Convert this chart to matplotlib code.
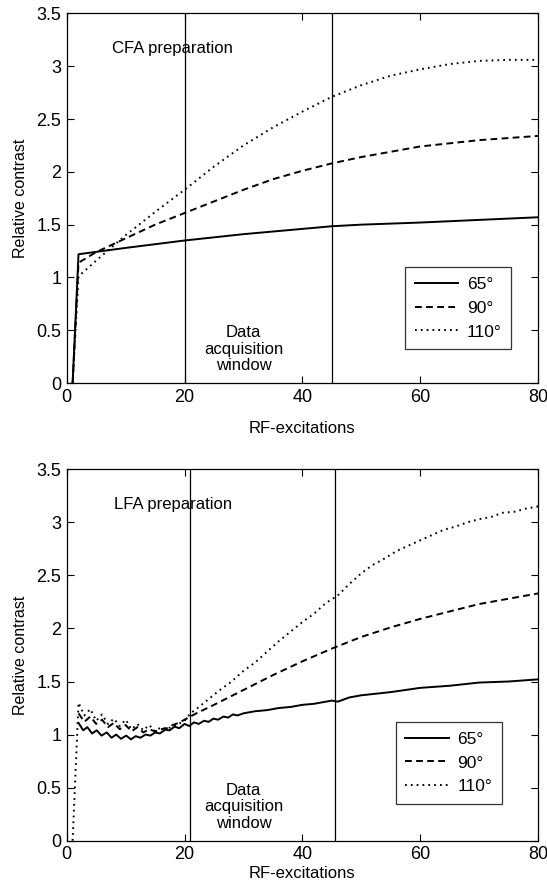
import matplotlib
matplotlib.use("Agg")
import matplotlib.pyplot as plt

plt.rcParams['font.family'] = ['Liberation Sans', 'DejaVu Sans']

# ---------------- data: top panel (CFA preparation) ----------------
top_x65 = [1, 2, 10, 20, 30, 40, 45, 50, 60, 70, 80]
top_y65 = [0, 1.22, 1.28, 1.35, 1.41, 1.46, 1.485, 1.50, 1.52, 1.545, 1.57]

top_x90 = [1, 2, 5, 10, 15, 20, 25, 30, 35, 40, 45, 50, 55, 60, 65, 70, 75, 80]
top_y90 = [0, 1.14, 1.24, 1.37, 1.50, 1.61, 1.72, 1.83, 1.93, 2.01, 2.08,
           2.14, 2.19, 2.24, 2.27, 2.30, 2.32, 2.34]

top_x110 = [1, 2, 5, 10, 15, 20, 25, 30, 35, 40, 45, 50, 55, 60, 65, 70, 75, 80]
top_y110 = [0, 1.01, 1.16, 1.40, 1.62, 1.83, 2.05, 2.25, 2.42, 2.57, 2.71,
            2.82, 2.91, 2.97, 3.02, 3.05, 3.06, 3.06]

top_vlines = [20, 45]

# ---------------- data: bottom panel (LFA preparation) ----------------
bot_x65 = [2, 2.8, 3.5, 4.3, 5.1, 5.9, 6.8, 7.6, 8.4, 9.2, 10.1, 10.9, 11.7,
           12.5, 13.4, 14.2, 15.0, 15.8, 16.7, 17.5, 18.3, 19.1, 20.0, 20.8,
           21.6, 22.4, 23.3, 24.1, 24.9, 25.7, 26.6, 27.4, 28.2, 29, 30, 32,
           34, 36, 38, 40, 42, 44, 45, 46, 48, 50, 55, 60, 65, 70, 75, 80]
bot_y65 = [1.11, 1.04, 1.07, 1.01, 1.04, 0.99, 1.02, 0.97, 1.00, 0.96, 0.99,
           0.955, 0.985, 0.97, 1.00, 0.99, 1.02, 1.01, 1.045, 1.04, 1.075, 1.06,
           1.10, 1.08, 1.115, 1.10, 1.13, 1.12, 1.15, 1.14, 1.17, 1.16, 1.19,
           1.18, 1.20, 1.22, 1.23, 1.25, 1.26, 1.28, 1.29, 1.31, 1.32, 1.31,
           1.35, 1.37, 1.40, 1.44, 1.46, 1.49, 1.50, 1.52]

bot_x90 = [2, 3, 4, 5, 6, 7, 8, 9, 10, 11, 12, 13, 14, 15, 16, 17, 18, 19,
           20, 21, 22, 25, 30, 35, 40, 45, 50, 55, 60, 65, 70, 75, 80]
bot_y90 = [1.20, 1.12, 1.17, 1.10, 1.14, 1.07, 1.11, 1.05, 1.09, 1.03, 1.07,
           1.02, 1.05, 1.03, 1.05, 1.06, 1.09, 1.11, 1.14, 1.17, 1.20, 1.28,
           1.42, 1.56, 1.69, 1.81, 1.92, 2.01, 2.09, 2.16, 2.23, 2.28, 2.33]

bot_x110 = [1, 2, 3, 4, 5, 6, 7, 8, 9, 10, 11, 12, 13, 14, 15, 16, 17, 18,
            19, 20, 21, 22, 24, 26, 28, 30, 32, 34, 36, 38, 40, 42, 44, 46,
            48, 50, 52, 54, 56, 58, 60, 62, 64, 66, 68, 70, 72, 74, 76, 78, 80]
bot_y110 = [0, 1.30, 1.18, 1.24, 1.13, 1.19, 1.10, 1.15, 1.08, 1.14, 1.05,
            1.10, 1.04, 1.09, 1.03, 1.07, 1.05, 1.08, 1.10, 1.13, 1.20, 1.24,
            1.33, 1.42, 1.50, 1.60, 1.68, 1.78, 1.88, 1.97, 2.06, 2.14, 2.24,
            2.31, 2.42, 2.52, 2.60, 2.66, 2.73, 2.78, 2.83, 2.88, 2.93, 2.96,
            3.00, 3.03, 3.05, 3.09, 3.10, 3.13, 3.15]

bot_vlines = [21, 45.5]

labels = ['65°', '90°', '110°']
xticks = [0, 20, 40, 60, 80]
yticks = [0, 0.5, 1, 1.5, 2, 2.5, 3, 3.5]
ytick_labels = ['0', '0.5', '1', '1.5', '2', '2.5', '3', '3.5']

FS = 12
TFS = 13

fig = plt.figure(figsize=(5.47, 8.91), dpi=100)
ax1 = fig.add_axes([0.122, 0.570, 0.8615, 0.415])
ax2 = fig.add_axes([0.122, 0.0565, 0.8615, 0.4168])


def style(ax, xs, ys, vlines, title, legend_anchor):
    l1, = ax.plot(xs[0], ys[0], color='black', lw=1.4, ls='-')
    l2, = ax.plot(xs[1], ys[1], color='black', lw=1.4, dashes=(3.5, 2.2))
    l3, = ax.plot(xs[2], ys[2], color='black', lw=1.4, dashes=(0.9, 2.1))
    for v in vlines:
        ax.axvline(v, color='black', lw=0.9)
    ax.set_xlim(0, 80)
    ax.set_ylim(0, 3.5)
    ax.set_xticks(xticks)
    ax.set_yticks(yticks)
    ax.set_yticklabels(ytick_labels)
    ax.tick_params(direction='in', length=5, width=0.8, top=True, right=True,
                   labelsize=TFS, pad=4)
    for s in ax.spines.values():
        s.set_linewidth(0.9)
    ax.set_ylabel('Relative contrast', fontsize=11.5, labelpad=6)
    ax.text(18, 3.17, title, ha='center', va='center', fontsize=FS)
    ax.text(30, 0.32, 'Data\nacquisition\nwindow', ha='center', va='center',
            fontsize=FS, linespacing=1.12)
    leg = ax.legend([l1, l2, l3], labels, loc='lower left',
                    bbox_to_anchor=legend_anchor, fontsize=12.5,
                    frameon=True, fancybox=False, edgecolor='black',
                    handlelength=2.5, labelspacing=0.5, borderpad=0.55,
                    handletextpad=0.5, borderaxespad=0)
    leg.get_frame().set_linewidth(0.9)


style(ax1, [top_x65, top_x90, top_x110], [top_y65, top_y90, top_y110],
      top_vlines, 'CFA preparation', (0.718, 0.092))
ax1.set_xlabel('RF-excitations', fontsize=FS, labelpad=11)

style(ax2, [bot_x65, bot_x90, bot_x110], [bot_y65, bot_y90, bot_y110],
      bot_vlines, 'LFA preparation', (0.698, 0.099))
ax2.set_xlabel('RF-excitations', fontsize=FS, labelpad=2)

fig.savefig('out.png', dpi=100)
